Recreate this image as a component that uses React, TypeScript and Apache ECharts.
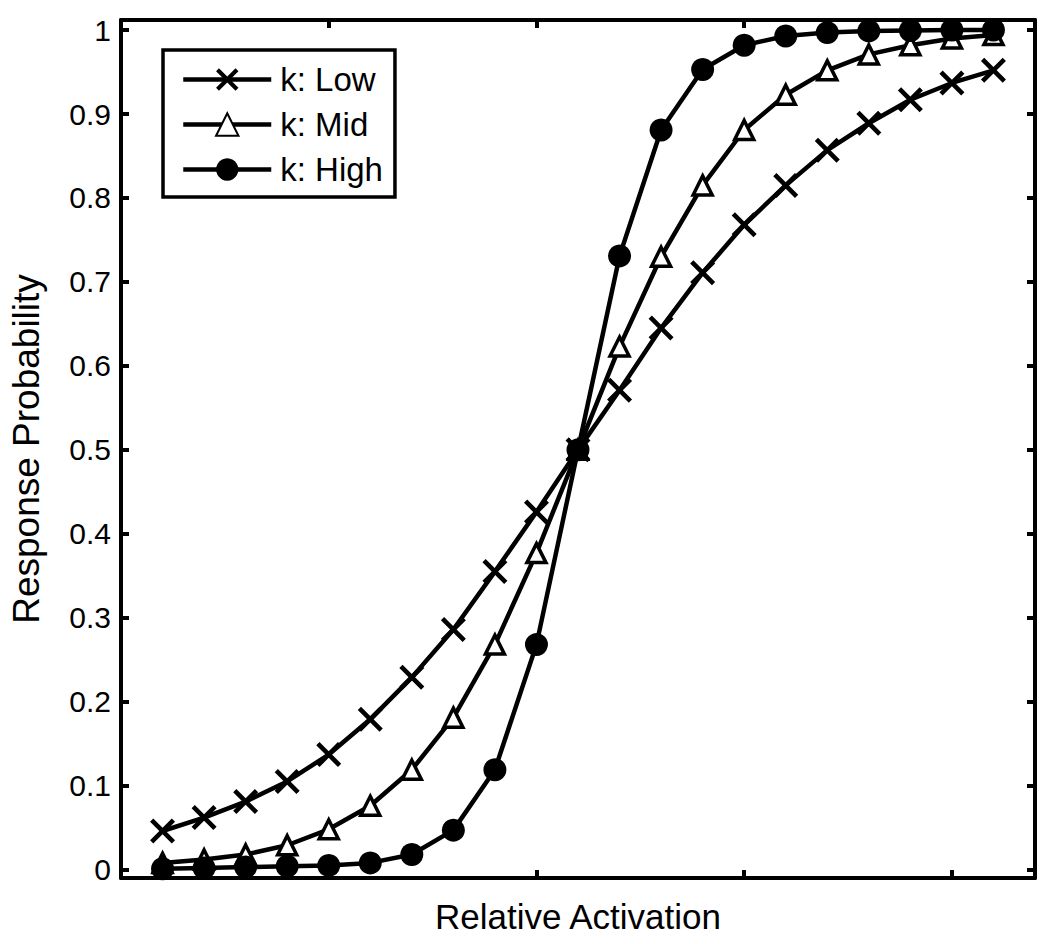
import React, { useEffect, useRef } from "react";
import * as echarts from "echarts";

const xIndex = [0, 1, 2, 3, 4, 5, 6, 7, 8, 9, 10, 11, 12, 13, 14, 15, 16, 17, 18, 19, 20];
const lowValues = [0.046, 0.062, 0.081, 0.105, 0.137, 0.179, 0.229, 0.286, 0.355, 0.426, 0.5, 0.571, 0.645, 0.711, 0.768, 0.815, 0.857, 0.889, 0.917, 0.937, 0.952];
const midValues = [0.008, 0.012, 0.018, 0.029, 0.048, 0.076, 0.119, 0.181, 0.268, 0.377, 0.5, 0.623, 0.73, 0.815, 0.881, 0.923, 0.952, 0.971, 0.982, 0.99, 0.994];
const highValues = [0.001, 0.002, 0.003, 0.004, 0.005, 0.008, 0.018, 0.047, 0.119, 0.268, 0.5, 0.731, 0.881, 0.953, 0.982, 0.993, 0.997, 0.999, 0.9995, 1.0, 1.0];
const seriesNames = ["k: Low", "k: Mid", "k: High"];
const yTickValues = [0, 0.1, 0.2, 0.3, 0.4, 0.5, 0.6, 0.7, 0.8, 0.9, 1];
const xTickValues = [4, 9, 14, 19];

const FONT = "'Liberation Sans', Arial, Helvetica, sans-serif";
const CROSS = "path://M0,13L13,0L50,37L87,0L100,13L63,50L100,87L87,100L50,63L13,100L0,87L37,50Z";

function pairs(vals: number[]) {
  return vals.map((v, i) => [xIndex[i], v]);
}

export default function App() {
  const ref = useRef<HTMLDivElement>(null);
  useEffect(() => {
    if (!ref.current) return;
    const chart = echarts.init(ref.current, null, { renderer: "svg" });
    const axisLine = { show: true, onZero: false, lineStyle: { color: "#000", width: 4 } };
    const tickStyle = { color: "#000", width: 4 };
    const xAxisBase = {
      type: "value",
      min: -1,
      max: 21,
      axisLine,
      splitLine: { show: false },
      axisTick: { show: true, inside: true, length: 8, lineStyle: tickStyle, customValues: xTickValues },
      axisLabel: { show: false },
    };
    const yAxisBase = {
      type: "value",
      min: -0.01,
      max: 1.012,
      axisLine,
      splitLine: { show: false },
      axisTick: { show: true, inside: true, length: 8, lineStyle: tickStyle, customValues: yTickValues },
    };
    const lineCommon = {
      type: "line",
      showSymbol: true,
      lineStyle: { color: "#000", width: 4.5 },
      emphasis: { disabled: true },
    };
    chart.setOption({
      animation: false,
      backgroundColor: "#fff",
      grid: { left: 120, right: 15, top: 20, bottom: 66, containLabel: false },
      legend: {
        show: true,
        orient: "vertical",
        left: 163,
        top: 50,
        padding: [13, 12, 11, 18],
        borderColor: "#000",
        borderWidth: 3.5,
        itemWidth: 88,
        itemHeight: 28,
        itemGap: 12,
        lineStyle: { width: 4.5, color: "#000" },
        textStyle: { fontSize: 33, color: "#000", fontFamily: FONT, padding: [0, 0, 0, 4] },
        data: seriesNames,
      },
      xAxis: [
        {
          ...xAxisBase,
          position: "bottom",
          name: "Relative Activation",
          nameLocation: "middle",
          nameGap: 21,
          nameTextStyle: { fontSize: 35, color: "#000", fontFamily: FONT, verticalAlign: "top" },
        },
        { ...xAxisBase, position: "top" },
      ],
      yAxis: [
        {
          ...yAxisBase,
          position: "left",
          name: "Response Probability",
          nameLocation: "middle",
          nameGap: 76,
          nameRotate: 90,
          nameTextStyle: { fontSize: 37, color: "#000", fontFamily: FONT },
          axisLabel: {
            show: true,
            customValues: yTickValues,
            margin: 10,
            fontSize: 30,
            color: "#000",
            fontFamily: FONT,
            formatter: (v: number) => String(Math.round(v * 10) / 10),
          },
        },
        { ...yAxisBase, position: "right", axisLabel: { show: false } },
      ],
      series: [
        {
          ...lineCommon,
          name: seriesNames[0],
          data: pairs(lowValues),
          symbol: CROSS,
          symbolSize: 25,
          itemStyle: { color: "#000" },
        },
        {
          ...lineCommon,
          name: seriesNames[1],
          data: pairs(midValues),
          symbol: "triangle",
          symbolSize: 19,
          itemStyle: { color: "#fff", borderColor: "#000", borderWidth: 3.5 },
        },
        {
          ...lineCommon,
          name: seriesNames[2],
          data: pairs(highValues),
          symbol: "circle",
          symbolSize: 23,
          itemStyle: { color: "#000" },
        },
      ],
    });
    return () => chart.dispose();
  }, []);
  return (
    <div
      ref={ref}
      style={{ position: "fixed", left: 0, top: 0, width: 1050, height: 944 }}
    />
  );
}
